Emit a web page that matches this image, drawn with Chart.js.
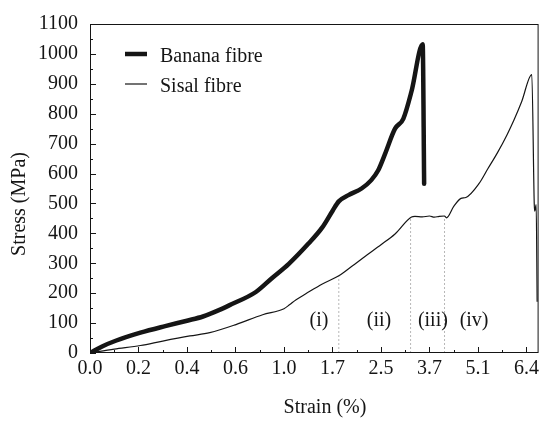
<!DOCTYPE html>
<html>
<head>
<meta charset="utf-8">
<script src="https://cdn.jsdelivr.net/npm/chart.js@4.4.0/dist/chart.umd.min.js"></script>
<style>
    html, body { margin: 0; padding: 0; background: #fff; }
    #chart { display: block; }
</style>
</head>
<body>
<canvas id="chart" width="543" height="422"></canvas>
<script>
// x values are positions along the axis in tick steps (tick i carries label xTickLabels[i])
var xTickLabels = ['0.0', '0.2', '0.4', '0.6', '1.0', '1.7', '2.5', '3.7', '5.1', '6.4'];
var xMax = 9.25;
var yMax = 1100;

var bananaX = [0, 0.25, 0.53, 1.04, 1.55, 2.0, 2.33, 2.67, 2.88, 3.42, 3.75, 4.10, 4.5, 4.79, 5.0, 5.13, 5.33, 5.60, 5.80, 5.94, 6.08, 6.29, 6.46, 6.63, 6.86, 6.89];
var bananaY = [0, 22, 41, 68, 90, 108, 122, 144, 160, 204, 250, 298, 365, 420, 475, 507, 528, 550, 578, 610, 664, 750, 783, 875, 1032, 566];

var sisalX = [0, 0.5, 1.04, 1.5, 2.06, 2.47, 3.01, 3.56, 4.0, 4.12, 4.25, 4.45, 4.79, 5.13, 5.4, 5.67, 6.0, 6.29, 6.63, 6.7, 6.85, 7.0, 7.1, 7.2, 7.31, 7.35, 7.5, 7.65, 7.75, 8.02, 8.2, 8.40, 8.6, 8.74, 8.9, 9.11, 9.16, 9.17, 9.2, 9.22];
var sisalY = [0, 13, 25, 40, 57, 68, 95, 128, 148, 162, 178, 198, 231, 258, 290, 323, 362, 398, 455, 457, 455, 458, 454, 457, 458, 452, 490, 517, 520, 566, 615, 669, 730, 778, 840, 931, 500, 474, 496, 171];

// dotted region boundaries and region labels
var boundaryX = [5.13, 6.61, 7.31];
var boundaryTop = [258, 455, 458];
var regionLabels = ['(i)', '(ii)', '(iii)', '(iv)'];
var regionLabelX = [4.72, 5.96, 7.07, 7.92];
var regionLabelY = 90;

var FONT = '"Liberation Serif", "Times New Roman", serif';
var INK = '#151515';

function toPoints(xs, ys) {
    return xs.map(function(x, i) { return { x: x, y: ys[i] }; });
}

var datasets = [{
    label: 'Banana fibre',
    data: toPoints(bananaX, bananaY),
    borderColor: INK,
    borderWidth: 4.5,
    pointRadius: 0,
    cubicInterpolationMode: 'monotone',
    borderJoinStyle: 'round',
    borderCapStyle: 'round'
}, {
    label: 'Sisal fibre',
    data: toPoints(sisalX, sisalY),
    borderColor: INK,
    borderWidth: 1.2,
    pointRadius: 0,
    cubicInterpolationMode: 'monotone'
}];

boundaryX.forEach(function(x, i) {
    datasets.push({
        label: '',
        data: [{ x: x, y: 0 }, { x: x, y: boundaryTop[i] }],
        borderColor: '#b8b8b8',
        borderWidth: 1,
        borderDash: [2, 2],
        pointRadius: 0
    });
});

// frame, inward ticks, legend, region labels and axis titles
var decorPlugin = {
    id: 'decor',
    afterDraw: function(chart) {
        var ctx = chart.ctx;
        var a = chart.chartArea;
        var xs = chart.scales.x;
        var ys = chart.scales.y;
        ctx.save();

        ctx.strokeStyle = INK;
        ctx.lineWidth = 1;
        ctx.strokeRect(a.left + 0.5, a.top + 0.5, a.right - a.left - 1, a.bottom - a.top - 1);

        ctx.beginPath();
        xs.ticks.forEach(function(t) {
            var px = Math.round(xs.getPixelForValue(t.value)) + 0.5;
            var len = Number.isInteger(t.value) ? 6 : 3;
            ctx.moveTo(px, a.bottom);
            ctx.lineTo(px, a.bottom - len);
        });
        ys.ticks.forEach(function(t) {
            var py = Math.round(ys.getPixelForValue(t.value)) + 0.5;
            var len = t.value % 100 === 0 ? 6 : 3;
            ctx.moveTo(a.left, py);
            ctx.lineTo(a.left + len, py);
        });
        ctx.stroke();

        // legend
        ctx.fillStyle = INK;
        ctx.font = '20px ' + FONT;
        ctx.textAlign = 'left';
        ctx.textBaseline = 'alphabetic';
        [0, 1].forEach(function(i) {
            var ds = chart.data.datasets[i];
            var ly = 54 + i * 30;
            ctx.beginPath();
            ctx.lineWidth = ds.borderWidth;
            ctx.moveTo(125, ly);
            ctx.lineTo(147, ly);
            ctx.stroke();
            ctx.fillText(ds.label, 160, ly + 8);
        });

        // region labels
        ctx.textAlign = 'center';
        regionLabels.forEach(function(txt, i) {
            ctx.fillText(txt, xs.getPixelForValue(regionLabelX[i]), ys.getPixelForValue(regionLabelY));
        });

        // axis titles
        ctx.textBaseline = 'middle';
        ctx.fillText('Strain (%)', 325, 408);
        ctx.translate(20, 204);
        ctx.rotate(-Math.PI / 2);
        ctx.fillText('Stress (MPa)', 0, 0);

        ctx.restore();
    }
};

new Chart(document.getElementById('chart'), {
    type: 'line',
    data: { datasets: datasets },
    plugins: [decorPlugin],
    options: {
        responsive: false,
        animation: false,
        devicePixelRatio: 1,
        layout: { padding: { top: 14, right: 1, left: 0, bottom: 0 } },
        plugins: {
            legend: { display: false },
            tooltip: { enabled: false }
        },
        scales: {
            x: {
                type: 'linear',
                min: 0,
                max: xMax,
                afterFit: function(scale) { scale.height = 69; },
                afterBuildTicks: function(scale) {
                    var ticks = [];
                    xTickLabels.forEach(function(lbl, i) {
                        ticks.push({ value: i });
                        if (i + 0.5 <= xMax) ticks.push({ value: i + 0.5 });
                    });
                    scale.ticks = ticks;
                },
                grid: { display: false, drawTicks: false },
                border: { display: false },
                ticks: {
                    autoSkip: false,
                    maxRotation: 0,
                    padding: 4,
                    color: INK,
                    font: { family: FONT, size: 20 },
                    callback: function(value) {
                        return Number.isInteger(value) ? (xTickLabels[value] || '') : '';
                    }
                }
            },
            y: {
                min: 0,
                max: yMax,
                afterFit: function(scale) { scale.width = 90; },
                grid: { display: false, drawTicks: false },
                border: { display: false },
                ticks: {
                    stepSize: 50,
                    autoSkip: false,
                    padding: 12,
                    color: INK,
                    font: { family: FONT, size: 20 },
                    callback: function(value) {
                        return value % 100 === 0 ? String(value) : '';
                    }
                }
            }
        }
    }
});
</script>
</body>
</html>
